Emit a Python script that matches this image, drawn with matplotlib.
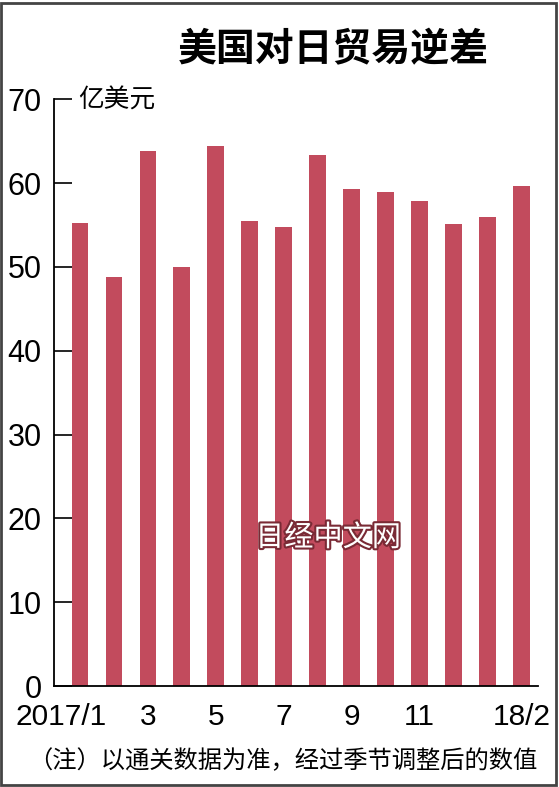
import matplotlib
matplotlib.use("Agg")
import matplotlib.pyplot as plt
import matplotlib.patheffects as pe
from matplotlib.patches import Rectangle
from matplotlib.transforms import ScaledTranslation

# Data
months = ["2017/1", "2", "3", "4", "5", "6", "7", "8", "9", "10", "11", "12", "18/1", "18/2"]
deficit = [55.2, 48.8, 63.8, 50.0, 64.4, 55.5, 54.8, 63.3, 59.3, 58.9, 57.9, 55.1, 56.0, 59.6]
shown_ticks = [0, 2, 4, 6, 8, 10, 13]
tick_labels = ["2017/1", "3", "5", "7", "9", "11", "18/2"]
y_ticks = [0, 10, 20, 30, 40, 50, 60, 70]

title = "美国对日贸易逆差"
unit = "亿美元"
note = "（注）以通关数据为准，经过季节调整后的数值"
watermark = "日经中文网"

CJK = ["Noto Sans CJK SC", "DejaVu Sans"]
NUM = ["Liberation Sans", "DejaVu Sans"]

fig = plt.figure(figsize=(5.59, 7.87), dpi=100)
ax = fig.add_axes([0.0966, 0.1283, 0.8658, 0.7455])

x = list(range(len(deficit)))
ax.bar(x, deficit, width=0.495, color="#c24b5d", edgecolor="none")

ax.set_xlim(-0.766, 13.49)
ax.set_ylim(0, 70)
ax.set_yticks(y_ticks)
ax.set_yticklabels([str(v) for v in y_ticks], family=NUM, fontsize=22)
ax.set_xticks(shown_ticks)
ax.set_xticklabels(tick_labels, family=NUM, fontsize=21.5)

ax.tick_params(axis="y", direction="in", length=13, width=1.2, pad=9, colors="black")
ax.tick_params(axis="x", length=0, pad=12)
for s in ["top", "right"]:
    ax.spines[s].set_visible(False)
ax.spines["left"].set_linewidth(1.3)
ax.spines["bottom"].set_linewidth(1.3)

# shift first x label left
lbl = ax.get_xticklabels()[0]
lbl.set_transform(lbl.get_transform() + ScaledTranslation(-0.19, 0, fig.dpi_scale_trans))

fig.text(333 / 559, 1 - 50 / 787, title, family=CJK, fontsize=28, fontweight="bold",
         ha="center", va="center")
fig.text(78 / 559, 1 - 101 / 787, unit, family=CJK, fontsize=18.5, ha="left", va="center")
fig.text(283 / 559, 1 - 761 / 787, note, family=CJK, fontsize=17.5, ha="center", va="center")

fig.text(328 / 559, 1 - 538 / 787, watermark, family=CJK, fontsize=21, fontweight="medium",
         color="white", ha="center", va="center",
         path_effects=[pe.withStroke(linewidth=3, foreground="#7a2a35")])

fig.patches.append(Rectangle((0.002, 0.002), 0.992, 0.994, transform=fig.transFigure,
                             fill=False, edgecolor="#444444", linewidth=2))

fig.savefig("out.png", dpi=100)
